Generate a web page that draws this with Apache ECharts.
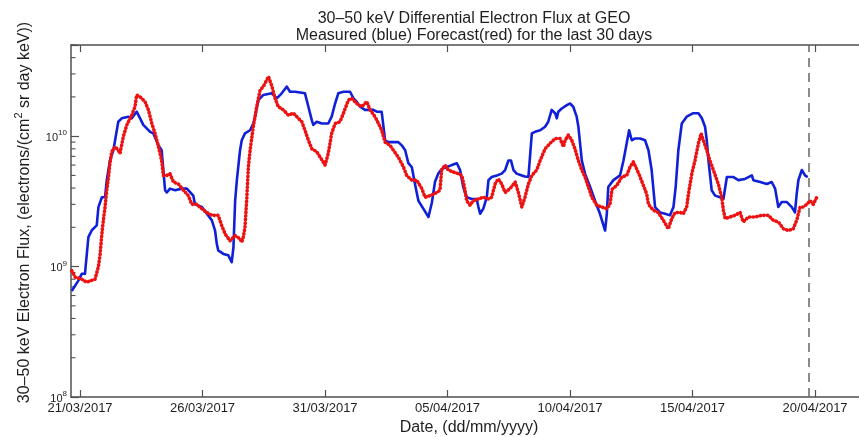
<!DOCTYPE html>
<html>
<head>
<meta charset="utf-8">
<title>30-50 keV Differential Electron Flux at GEO</title>
<script src="https://cdn.jsdelivr.net/npm/echarts@6/dist/echarts.min.js"></script>
<style>
  html, body { margin: 0; padding: 0; background: #fff; }
  #chart { width: 859px; height: 437px; }
</style>
</head>
<body>
<div id="chart"></div>
<script>
// Time is counted in days from 21/03/2017 00:00 UT.
const startDate = Date.UTC(2017, 2, 21);
const dayMs = 86400000;

// Date ticks every 5 days (days from start)
const tickDays = [0, 5, 10, 15, 20, 25, 30];
// Start of the forecast-only interval (dashed marker)
const forecastStartDay = 29.73;

// Measured flux (blue), electrons/(cm^2 sr day keV)
const measuredDay = [
  -0.34, -0.07, 0.07, 0.20, 0.34, 0.48, 0.68, 0.75, 0.89, 1.02,
  1.09, 1.22, 1.36, 1.43, 1.56, 1.70, 1.97, 2.11, 2.31, 2.45,
  2.58, 2.86, 2.99, 3.20, 3.33, 3.40, 3.47, 3.54, 3.67, 3.88,
  4.15, 4.36, 4.62, 4.69, 4.97, 5.38, 5.51, 5.58, 5.64, 5.85,
  6.05, 6.19, 6.26, 6.33, 6.40, 6.53, 6.60, 6.73, 6.94, 7.07,
  7.14, 7.28, 7.48, 7.82, 8.03, 8.23, 8.44, 8.57, 8.78, 9.05,
  9.18, 9.32, 9.46, 9.52, 9.66, 9.87, 10.13, 10.27, 10.41, 10.54,
  10.75, 11.02, 11.16, 11.29, 11.43, 11.63, 11.97, 12.11, 12.31, 12.45,
  12.58, 12.99, 13.13, 13.27, 13.40, 13.54, 13.67, 13.81, 14.01, 14.22,
  14.36, 14.49, 14.62, 14.76, 14.97, 15.17, 15.38, 15.51, 15.64, 15.78,
  15.99, 16.19, 16.26, 16.33, 16.46, 16.60, 16.67, 16.80, 17.01, 17.21,
  17.35, 17.48, 17.59, 17.69, 17.82, 18.03, 18.16, 18.30, 18.44, 18.57,
  18.78, 18.98, 19.11, 19.25, 19.39, 19.46, 19.52, 19.66, 19.87, 20.00,
  20.13, 20.27, 20.34, 20.48, 20.61, 20.82, 21.02, 21.22, 21.43, 21.50,
  21.56, 21.77, 22.04, 22.18, 22.31, 22.41, 22.52, 22.65, 22.86, 23.06,
  23.20, 23.33, 23.47, 23.67, 23.88, 24.08, 24.22, 24.31, 24.42, 24.56,
  24.76, 25.03, 25.24, 25.38, 25.51, 25.58, 25.65, 25.78, 25.92, 26.12,
  26.26, 26.40, 26.67, 26.87, 27.14, 27.42, 27.48, 27.76, 28.03, 28.23,
  28.37, 28.50, 28.64, 28.84, 29.05, 29.18, 29.25, 29.32, 29.46, 29.59,
  29.70
];
const measuredFlux = [
  6.5e8, 7.8e8, 8.8e8, 8.8e8, 1.68e9, 1.9e9, 2.07e9, 2.86e9, 3.4e9, 3.4e9,
  4.6e9, 6.5e9, 7.8e9, 9.3e9, 1.29e10, 1.37e10, 1.41e10, 1.37e10, 1.54e10, 1.37e10,
  1.22e10, 1.08e10, 1.05e10, 8.5e9, 7.8e9, 5.5e9, 3.85e9, 3.7e9, 3.96e9, 3.85e9,
  3.96e9, 3.96e9, 3.5e9, 3.0e9, 2.86e9, 2.26e9, 1.89e9, 1.5e9, 1.33e9, 1.25e9,
  1.22e9, 1.08e9, 1.4e9, 3.2e9, 4.6e9, 7.8e9, 9.3e9, 1.05e10, 1.11e10, 1.25e10,
  1.4e10, 1.89e10, 2.07e10, 2.13e10, 1.95e10, 2.13e10, 2.4e10, 2.19e10, 2.19e10, 2.15e10,
  2.13e10, 1.68e10, 1.32e10, 1.22e10, 1.29e10, 1.25e10, 1.25e10, 1.41e10, 1.78e10, 2.13e10,
  2.19e10, 2.19e10, 1.95e10, 1.84e10, 1.68e10, 1.59e10, 1.59e10, 1.54e10, 1.54e10, 9.3e9,
  9.0e9, 9.0e9, 8.5e9, 7.8e9, 6.2e9, 5.8e9, 4.3e9, 3.2e9, 2.78e9, 2.4e9,
  3.1e9, 4.5e9, 5.16e9, 5.6e9, 5.8e9, 6.0e9, 6.2e9, 5.5e9, 4.07e9, 3.4e9,
  3.3e9, 3.3e9, 2.86e9, 2.54e9, 2.78e9, 3.4e9, 4.6e9, 4.86e9, 5.0e9, 5.16e9,
  5.5e9, 6.5e9, 6.5e9, 5.5e9, 5.16e9, 5.0e9, 4.9e9, 4.86e9, 1.05e10, 1.08e10,
  1.11e10, 1.18e10, 1.29e10, 1.59e10, 1.5e10, 1.37e10, 1.54e10, 1.63e10, 1.73e10, 1.78e10,
  1.68e10, 1.41e10, 1.18e10, 6.5e9, 5.16e9, 4.07e9, 3.2e9, 2.54e9, 1.89e9, 2.54e9,
  4.07e9, 4.6e9, 5.0e9, 6.5e9, 8.8e9, 1.11e10, 9.3e9, 9.6e9, 9.6e9, 9.3e9,
  7.8e9, 5.5e9, 2.86e9, 2.6e9, 2.54e9, 2.47e9, 2.86e9, 4.07e9, 7.8e9, 1.25e10,
  1.41e10, 1.5e10, 1.5e10, 1.37e10, 1.18e10, 9.3e9, 6.5e9, 3.85e9, 3.5e9, 3.4e9,
  3.3e9, 4.86e9, 4.86e9, 4.6e9, 4.7e9, 5.0e9, 4.6e9, 4.45e9, 4.3e9, 4.45e9,
  3.96e9, 2.86e9, 3.13e9, 3.13e9, 2.86e9, 2.6e9, 3.6e9, 4.6e9, 5.5e9, 5.0e9,
  4.86e9
];

// Forecast flux (red), electrons/(cm^2 sr day keV)
const forecastDay = [
  -0.34, -0.20, 0.07, 0.27, 0.61, 0.75, 0.82, 0.89, 0.95, 1.02,
  1.09, 1.16, 1.22, 1.29, 1.43, 1.56, 1.63, 1.77, 1.91, 2.11,
  2.24, 2.31, 2.45, 2.65, 2.79, 2.93, 3.06, 3.20, 3.33, 3.40,
  3.54, 3.67, 3.81, 4.01, 4.22, 4.42, 4.56, 4.76, 4.97, 5.17,
  5.38, 5.64, 5.78, 5.92, 6.12, 6.33, 6.53, 6.60, 6.67, 6.73,
  6.80, 6.87, 6.94, 7.07, 7.21, 7.35, 7.48, 7.69, 7.82, 7.96,
  8.09, 8.30, 8.50, 8.71, 8.91, 9.05, 9.18, 9.32, 9.46, 9.66,
  9.80, 10.00, 10.13, 10.27, 10.41, 10.61, 10.75, 10.95, 11.09, 11.29,
  11.50, 11.70, 11.84, 12.04, 12.18, 12.31, 12.45, 12.65, 12.79, 12.99,
  13.20, 13.33, 13.54, 13.74, 13.95, 14.08, 14.29, 14.56, 14.69, 14.76,
  14.90, 15.03, 15.24, 15.44, 15.58, 15.69, 15.78, 15.92, 16.05, 16.26,
  16.46, 16.67, 16.80, 16.94, 17.07, 17.21, 17.35, 17.55, 17.76, 17.89,
  18.03, 18.16, 18.30, 18.44, 18.64, 18.78, 18.98, 19.18, 19.39, 19.59,
  19.73, 19.80, 19.93, 20.07, 20.20, 20.34, 20.48, 20.61, 20.75, 20.89,
  21.09, 21.29, 21.50, 21.63, 21.71, 21.91, 22.11, 22.31, 22.45, 22.58,
  22.72, 22.86, 22.99, 23.13, 23.20, 23.40, 23.60, 23.81, 24.01, 24.15,
  24.29, 24.49, 24.62, 24.76, 24.83, 24.90, 24.97, 25.10, 25.24, 25.35,
  25.44, 25.58, 25.71, 25.85, 26.05, 26.19, 26.26, 26.33, 26.53, 26.73,
  26.94, 27.07, 27.28, 27.55, 27.82, 28.09, 28.30, 28.50, 28.71, 28.91,
  29.11, 29.25, 29.39, 29.52, 29.66, 29.80, 29.93, 30.07
];
const forecastFlux = [
  9.3e8, 8.3e8, 8.0e8, 7.6e8, 8.0e8, 1.0e9, 1.25e9, 1.78e9, 2.26e9, 2.86e9,
  3.85e9, 4.86e9, 6.2e9, 7.6e9, 8.3e9, 7.8e9, 7.36e9, 1.0e10, 1.22e10, 1.45e10,
  1.68e10, 2.07e10, 2.0e10, 1.84e10, 1.59e10, 1.25e10, 1.05e10, 8.3e9, 6.5e9, 5.0e9,
  5.0e9, 5.16e9, 4.45e9, 4.3e9, 3.85e9, 3.5e9, 3.0e9, 3.0e9, 2.78e9, 2.6e9,
  2.47e9, 2.47e9, 2.07e9, 1.78e9, 1.58e9, 1.73e9, 1.63e9, 1.54e9, 1.7e9, 2.0e9,
  3.2e9, 5.8e9, 7.8e9, 1.18e10, 1.68e10, 2.26e10, 2.4e10, 2.86e10, 2.45e10, 1.95e10,
  1.68e10, 1.59e10, 1.45e10, 1.5e10, 1.37e10, 1.29e10, 1.11e10, 9.3e9, 8.0e9, 7.6e9,
  6.9e9, 6.0e9, 7.36e9, 1.05e10, 1.25e10, 1.29e10, 1.5e10, 1.89e10, 1.95e10, 1.78e10,
  1.68e10, 1.84e10, 1.59e10, 1.41e10, 1.25e10, 1.11e10, 9.0e9, 8.5e9, 7.8e9, 6.9e9,
  5.8e9, 5.0e9, 4.6e9, 4.6e9, 3.96e9, 3.4e9, 3.5e9, 3.7e9, 3.85e9, 5.5e9,
  6.0e9, 5.5e9, 5.3e9, 5.16e9, 5.0e9, 4.07e9, 3.2e9, 2.95e9, 3.2e9, 3.3e9,
  3.4e9, 3.3e9, 3.4e9, 4.3e9, 4.7e9, 4.3e9, 3.7e9, 3.96e9, 4.45e9, 3.7e9,
  2.86e9, 3.4e9, 4.3e9, 5.0e9, 5.5e9, 6.5e9, 8.0e9, 8.8e9, 9.6e9, 9.6e9,
  8.3e9, 9.3e9, 1.02e10, 9.3e9, 8.0e9, 6.5e9, 5.5e9, 4.86e9, 4.07e9, 3.4e9,
  2.95e9, 2.86e9, 2.78e9, 3.0e9, 3.9e9, 4.2e9, 4.86e9, 5.0e9, 5.8e9, 6.35e9,
  5.6e9, 4.86e9, 4.2e9, 3.6e9, 3.0e9, 2.7e9, 2.6e9, 2.26e9, 1.95e9, 2.33e9,
  2.6e9, 2.6e9, 2.54e9, 2.86e9, 3.6e9, 4.3e9, 5.16e9, 6.5e9, 8.8e9, 1.05e10,
  9.3e9, 7.8e9, 6.5e9, 5.5e9, 4.3e9, 3.4e9, 2.7e9, 2.33e9, 2.4e9, 2.47e9,
  2.6e9, 2.2e9, 2.4e9, 2.4e9, 2.47e9, 2.47e9, 2.26e9, 2.2e9, 1.95e9, 1.89e9,
  1.95e9, 2.26e9, 2.86e9, 2.86e9, 3.0e9, 3.2e9, 3.0e9, 3.4e9
];

// Minor tick values (2..9 within each decade) for the logarithmic flux axis
const minorFluxTicks = [];
[1e8, 1e9, 1e10].forEach(function (base) {
  for (let k = 2; k <= 9; k++) {
    if (base * k <= 5e10) minorFluxTicks.push(base * k);
  }
});

const fontFamily = '"Liberation Sans", Arial, Helvetica, sans-serif';
const axisColor = '#505050';
const textColor = '#1e1e1e';
const xMin = -0.37;
const xMax = 32.12;

function pad2(n) { return (n < 10 ? '0' : '') + n; }
function dayLabel(d) {
  const t = new Date(startDate + Math.round(d) * dayMs);
  return pad2(t.getUTCDate()) + '/' + pad2(t.getUTCMonth() + 1) + '/' + t.getUTCFullYear();
}

const chart = echarts.init(document.getElementById('chart'), null, { renderer: 'canvas' });

const frameLine = { show: true, onZero: false, lineStyle: { color: axisColor, width: 1.5 } };

const option = {
  animation: false,
  backgroundColor: '#ffffff',
  title: {
    text: '30\u201350 keV Differential Electron Flux at GEO\nMeasured (blue) Forecast(red) for the last 30 days',
    left: 469,
    top: 5,
    textAlign: 'center',
    textStyle: {
      fontFamily: fontFamily,
      fontSize: 16,
      fontWeight: 'normal',
      color: textColor,
      lineHeight: 17
    }
  },
  grid: {
    left: 71,
    right: -8,
    top: 45,
    bottom: 40,
    containLabel: false,
    outerBoundsMode: 'none'
  },
  xAxis: [
    {
      type: 'value',
      min: xMin,
      max: xMax,
      position: 'bottom',
      name: 'Date, (dd/mm/yyyy)',
      nameLocation: 'middle',
      nameGap: 21,
      nameTextStyle: { fontFamily: fontFamily, fontSize: 16, color: textColor },
      axisLine: frameLine,
      axisTick: { show: true, inside: true, length: 7, customValues: tickDays, lineStyle: { color: axisColor, width: 1.2 } },
      axisLabel: {
        customValues: tickDays,
        formatter: dayLabel,
        margin: 5,
        fontFamily: fontFamily,
        fontSize: 13,
        color: textColor
      },
      splitLine: { show: false }
    },
    {
      type: 'value',
      min: xMin,
      max: xMax,
      position: 'top',
      axisLine: frameLine,
      axisTick: { show: true, inside: true, length: 7, customValues: tickDays, lineStyle: { color: axisColor, width: 1.2 } },
      axisLabel: { show: false },
      splitLine: { show: false }
    }
  ],
  yAxis: [
    {
      type: 'log',
      logBase: 10,
      min: 1e8,
      max: 5e10,
      position: 'left',
      name: '{a|30\u201350 keV Electron Flux, (electrons/(cm}{s|2}{a| sr day keV))}',
      nameLocation: 'middle',
      nameGap: 38,
      nameTextStyle: {
        padding: [0, 0, 0, 17],
        rich: {
          a: { fontFamily: fontFamily, fontSize: 16, color: textColor, lineHeight: 20, verticalAlign: 'bottom' },
          s: { fontFamily: fontFamily, fontSize: 11, color: textColor, lineHeight: 20, verticalAlign: 'top' }
        }
      },
      axisLine: frameLine,
      axisTick: { show: true, inside: true, length: 8, lineStyle: { color: axisColor, width: 1.2 } },
      axisLabel: {
        margin: 4,
        formatter: function (v) {
          const e = Math.round(Math.log10(v));
          if (Math.abs(v / Math.pow(10, e) - 1) > 1e-6) return '';
          return '{b|10}{e|' + e + '}';
        },
        rich: {
          b: { fontFamily: fontFamily, fontSize: 11, color: textColor, lineHeight: 14, verticalAlign: 'bottom' },
          e: { fontFamily: fontFamily, fontSize: 8, color: textColor, lineHeight: 14, verticalAlign: 'top' }
        }
      },
      splitLine: { show: false }
    },
    {
      type: 'log',
      logBase: 10,
      min: 1e8,
      max: 5e10,
      position: 'right',
      axisLine: frameLine,
      axisTick: { show: true, inside: true, length: 8, lineStyle: { color: axisColor, width: 1.2 } },
      axisLabel: { show: false },
      splitLine: { show: false }
    }
  ],
  series: [
    {
      // minor ticks of the log flux axis, drawn through the axis scale
      name: 'minorTicks',
      type: 'custom',
      xAxisIndex: 0,
      yAxisIndex: 0,
      silent: true,
      clip: false,
      data: minorFluxTicks.map(function (v) { return [xMin, v]; }),
      renderItem: function (params, api) {
        const left = api.coord([xMin, api.value(1)]);
        const right = api.coord([xMax, api.value(1)]);
        return {
          type: 'group',
          children: [
            { type: 'line', shape: { x1: left[0], y1: left[1], x2: left[0] + 4.5, y2: left[1] },
              style: { stroke: axisColor, lineWidth: 1.1 } },
            { type: 'line', shape: { x1: right[0], y1: right[1], x2: right[0] - 4.5, y2: right[1] },
              style: { stroke: axisColor, lineWidth: 1.1 } }
          ]
        };
      },
      z: 1
    },
    {
      name: 'Measured',
      type: 'line',
      xAxisIndex: 0,
      yAxisIndex: 0,
      data: measuredDay.map(function (d, i) { return [d, measuredFlux[i]]; }),
      showSymbol: false,
      symbol: 'none',
      lineStyle: { color: '#1020d8', width: 2.6, join: 'round' },
      z: 3,
      markLine: {
        silent: true,
        symbol: ['none', 'none'],
        label: { show: false },
        lineStyle: { color: '#6e6e6e', width: 1.6, type: [9, 6] },
        data: [{ xAxis: forecastStartDay }],
        z: 2
      }
    },
    {
      name: 'Forecast',
      type: 'line',
      xAxisIndex: 0,
      yAxisIndex: 0,
      data: forecastDay.map(function (d, i) { return [d, forecastFlux[i]]; }),
      showSymbol: false,
      symbol: 'none',
      lineStyle: { color: '#ee1111', width: 3.6, type: [0.4, 3.2], cap: 'round', join: 'round' },
      z: 4
    }
  ]
};

chart.setOption(option);
</script>
</body>
</html>
